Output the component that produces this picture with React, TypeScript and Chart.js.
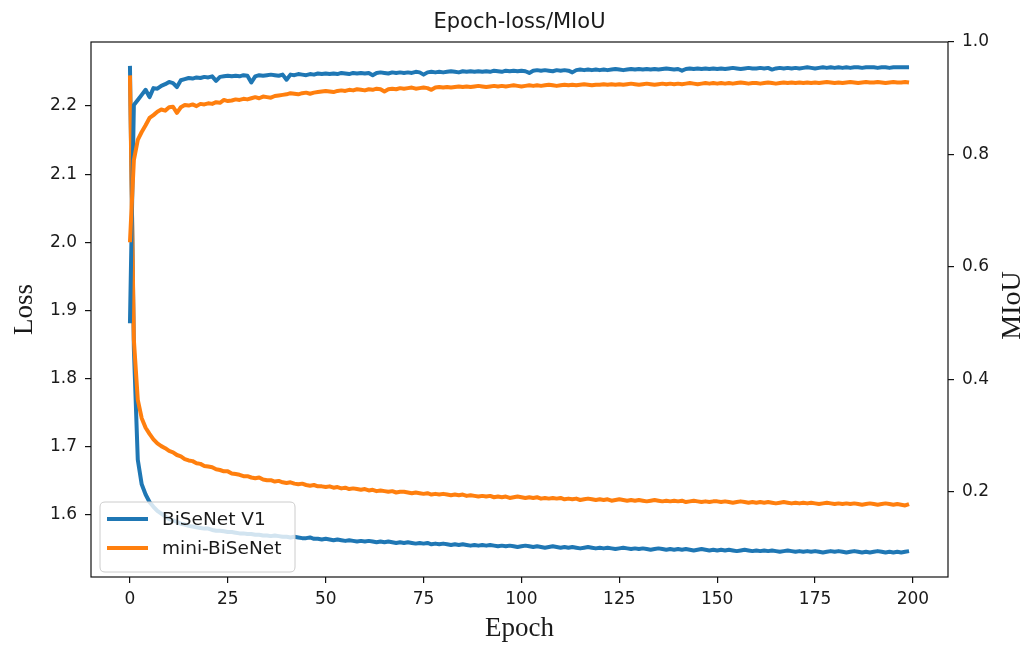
import React, { useEffect, useRef } from "react";
import { Chart, registerables } from "chart.js";

Chart.register(...registerables);

const epochs = Array.from({ length: 200 }, (_, i) => i);

const seriesNames = ["BiSeNet V1", "mini-BiSeNet"];
const seriesColors = ["#1f77b4", "#ff7f0e"];

const bisenetLoss = [
  2.259, 1.844, 1.681, 1.645, 1.630, 1.619, 1.612, 1.606, 1.602, 1.598,
  1.594, 1.592, 1.590, 1.587, 1.586, 1.584, 1.583, 1.582, 1.581, 1.580,
  1.580, 1.578, 1.577, 1.577, 1.576, 1.575, 1.575, 1.574, 1.573, 1.573,
  1.572, 1.572, 1.571, 1.571, 1.570, 1.570, 1.569, 1.570, 1.569, 1.568,
  1.568, 1.567, 1.568, 1.567, 1.566, 1.566, 1.567, 1.565, 1.565, 1.564,
  1.565, 1.564, 1.563, 1.564, 1.563, 1.562, 1.563, 1.562, 1.561, 1.562,
  1.561, 1.562, 1.561, 1.560, 1.561, 1.560, 1.561, 1.560, 1.559, 1.560,
  1.559, 1.560, 1.559, 1.558, 1.559, 1.558, 1.559, 1.557, 1.558, 1.557,
  1.558, 1.557, 1.556, 1.557, 1.556, 1.557, 1.556, 1.555, 1.556, 1.555,
  1.556, 1.555, 1.556, 1.555, 1.554, 1.555, 1.554, 1.555, 1.554, 1.553,
  1.554, 1.555, 1.554, 1.553, 1.554, 1.553, 1.552, 1.553, 1.554, 1.553,
  1.552, 1.553, 1.552, 1.553, 1.552, 1.551, 1.552, 1.553, 1.552, 1.551,
  1.552, 1.551, 1.552, 1.551, 1.550, 1.551, 1.552, 1.551, 1.550, 1.551,
  1.550, 1.551, 1.550, 1.549, 1.550, 1.551, 1.550, 1.549, 1.550, 1.549,
  1.550, 1.549, 1.550, 1.549, 1.548, 1.549, 1.550, 1.549, 1.548, 1.549,
  1.548, 1.549, 1.548, 1.549, 1.548, 1.547, 1.548, 1.549, 1.548, 1.547,
  1.548, 1.547, 1.548, 1.547, 1.548, 1.547, 1.546, 1.547, 1.548, 1.547,
  1.546, 1.547, 1.546, 1.547, 1.546, 1.547, 1.546, 1.545, 1.546, 1.547,
  1.546, 1.547, 1.546, 1.545, 1.546, 1.547, 1.546, 1.545, 1.546, 1.545,
  1.546, 1.547, 1.546, 1.545, 1.546, 1.545, 1.546, 1.545, 1.546, 1.547,
];

const miniLoss = [
  2.245, 1.857, 1.769, 1.742, 1.728, 1.719, 1.711, 1.705, 1.701, 1.698,
  1.694, 1.692, 1.688, 1.686, 1.682, 1.680, 1.679, 1.676, 1.675, 1.672,
  1.671, 1.670, 1.667, 1.666, 1.664, 1.664, 1.661, 1.660, 1.659, 1.657,
  1.657, 1.655, 1.654, 1.655, 1.652, 1.651, 1.651, 1.649, 1.650, 1.648,
  1.647, 1.648, 1.646, 1.645, 1.646, 1.644, 1.643, 1.644, 1.642, 1.642,
  1.641, 1.642, 1.640, 1.641, 1.639, 1.640, 1.638, 1.639, 1.638, 1.637,
  1.638, 1.636, 1.637, 1.635, 1.636, 1.635, 1.634, 1.635, 1.633, 1.634,
  1.634, 1.633, 1.632, 1.633, 1.632, 1.631, 1.632, 1.630, 1.631, 1.630,
  1.631, 1.630, 1.629, 1.630, 1.629, 1.630, 1.628, 1.629, 1.628, 1.627,
  1.628, 1.627, 1.628, 1.626, 1.627, 1.626, 1.627, 1.625, 1.626, 1.627,
  1.626, 1.625, 1.626, 1.625, 1.626, 1.624, 1.625, 1.624, 1.625, 1.624,
  1.625, 1.623, 1.624, 1.623, 1.624, 1.622, 1.623, 1.624, 1.623, 1.622,
  1.623, 1.622, 1.623, 1.621, 1.622, 1.623, 1.622, 1.621, 1.622, 1.621,
  1.622, 1.621, 1.620, 1.621, 1.622, 1.621, 1.620, 1.621, 1.620, 1.621,
  1.620, 1.621, 1.619, 1.620, 1.621, 1.620, 1.619, 1.620, 1.619, 1.620,
  1.620, 1.619, 1.620, 1.619, 1.618, 1.619, 1.620, 1.619, 1.618, 1.619,
  1.618, 1.619, 1.618, 1.619, 1.618, 1.617, 1.618, 1.619, 1.618, 1.617,
  1.618, 1.617, 1.618, 1.617, 1.618, 1.617, 1.616, 1.617, 1.618, 1.617,
  1.616, 1.617, 1.616, 1.617, 1.616, 1.617, 1.616, 1.615, 1.616, 1.617,
  1.616, 1.615, 1.616, 1.617, 1.616, 1.615, 1.616, 1.615, 1.614, 1.616,
];

const bisenetMiou = [
  0.500, 0.888, 0.897, 0.906, 0.915, 0.902, 0.918, 0.917, 0.922, 0.925,
  0.929, 0.927, 0.920, 0.932, 0.934, 0.936, 0.935, 0.937, 0.936, 0.938,
  0.937, 0.939, 0.931, 0.938, 0.939, 0.940, 0.939, 0.940, 0.939, 0.941,
  0.940, 0.928, 0.939, 0.941, 0.940, 0.941, 0.942, 0.941, 0.940, 0.942,
  0.933, 0.942, 0.941, 0.943, 0.942, 0.941, 0.943, 0.942, 0.944, 0.943,
  0.944, 0.943, 0.944, 0.943, 0.945, 0.944, 0.943, 0.945, 0.944, 0.945,
  0.944, 0.945, 0.941, 0.945, 0.946, 0.945, 0.944, 0.946, 0.945, 0.946,
  0.945, 0.946, 0.945, 0.947, 0.946, 0.942, 0.946, 0.947, 0.946, 0.947,
  0.946, 0.947, 0.948, 0.947, 0.946, 0.948, 0.947, 0.948, 0.947, 0.948,
  0.947, 0.948, 0.947, 0.949, 0.948, 0.947, 0.949, 0.948, 0.949, 0.948,
  0.949, 0.948, 0.945, 0.949, 0.950, 0.949, 0.950, 0.949, 0.948, 0.950,
  0.949, 0.950, 0.949, 0.946, 0.950, 0.951, 0.950, 0.951, 0.950, 0.951,
  0.950, 0.951, 0.950, 0.951, 0.952, 0.951, 0.950, 0.951, 0.952, 0.951,
  0.952, 0.951, 0.952, 0.951, 0.952, 0.951, 0.952, 0.953, 0.952, 0.951,
  0.952, 0.949, 0.952, 0.953, 0.952, 0.953, 0.952, 0.953, 0.952, 0.953,
  0.952, 0.953, 0.952, 0.953, 0.954, 0.953, 0.952, 0.953, 0.954, 0.953,
  0.953, 0.954, 0.953, 0.954, 0.951, 0.953, 0.954, 0.953, 0.954, 0.953,
  0.954, 0.953, 0.954, 0.955, 0.954, 0.953, 0.954, 0.955, 0.954, 0.955,
  0.954, 0.955, 0.954, 0.955, 0.954, 0.955, 0.955, 0.954, 0.955, 0.955,
  0.955, 0.954, 0.955, 0.955, 0.954, 0.955, 0.955, 0.955, 0.955, 0.955,
];

const miniMiou = [
  0.644, 0.790, 0.826, 0.840, 0.852, 0.865, 0.870, 0.876, 0.880, 0.878,
  0.884, 0.885, 0.874, 0.884, 0.888, 0.887, 0.889, 0.886, 0.890, 0.889,
  0.891, 0.890, 0.893, 0.892, 0.897, 0.895, 0.896, 0.898, 0.897, 0.899,
  0.898, 0.900, 0.902, 0.900, 0.903, 0.902, 0.901, 0.904, 0.905, 0.906,
  0.907, 0.909, 0.908, 0.907, 0.909, 0.910, 0.908, 0.910, 0.911, 0.912,
  0.913, 0.912, 0.911, 0.913, 0.914, 0.913, 0.915, 0.914, 0.916, 0.915,
  0.914, 0.916, 0.915, 0.917, 0.916, 0.912, 0.916, 0.917, 0.916, 0.918,
  0.917, 0.918, 0.919, 0.917, 0.918, 0.919, 0.918, 0.915, 0.919, 0.920,
  0.919, 0.920, 0.919, 0.920, 0.921, 0.920, 0.921, 0.920, 0.921, 0.922,
  0.921, 0.920, 0.921, 0.922, 0.921, 0.922, 0.921, 0.922, 0.923, 0.922,
  0.921, 0.922, 0.923, 0.922, 0.923, 0.922, 0.923, 0.924, 0.923, 0.922,
  0.923, 0.924, 0.923, 0.924, 0.923, 0.924, 0.925, 0.924, 0.923, 0.924,
  0.924, 0.925, 0.924, 0.925, 0.924, 0.925, 0.924, 0.925, 0.926, 0.925,
  0.924, 0.925, 0.926, 0.925, 0.924, 0.925, 0.926, 0.925, 0.926, 0.925,
  0.926, 0.925, 0.926, 0.927, 0.926, 0.925, 0.926, 0.927, 0.926, 0.927,
  0.926, 0.927, 0.926, 0.927, 0.926, 0.927, 0.928, 0.927, 0.926, 0.927,
  0.927, 0.926, 0.927, 0.928, 0.927, 0.926, 0.927, 0.928, 0.927, 0.928,
  0.927, 0.928, 0.927, 0.928, 0.927, 0.928, 0.927, 0.928, 0.929, 0.928,
  0.927, 0.928, 0.927, 0.928, 0.929, 0.928, 0.927, 0.928, 0.929, 0.928,
  0.928, 0.929, 0.928, 0.927, 0.928, 0.929, 0.928, 0.928, 0.929, 0.928,
];

const xTicks = [0, 25, 50, 75, 100, 125, 150, 175, 200];
const lossTicks = [1.6, 1.7, 1.8, 1.9, 2.0, 2.1, 2.2];
const miouTicks = [0.2, 0.4, 0.6, 0.8, 1.0];

const titleText = "Epoch-loss/MIoU";
const xTitle = "Epoch";
const yLeftTitle = "Loss";
const yRightTitle = "MIoU";

const SANS = "'DejaVu Sans', sans-serif";
const SERIF = "'Liberation Serif', 'DejaVu Serif', serif";

const toPoints = (vals: number[]) => epochs.map((e, i) => ({ x: e, y: vals[i] }));

const decorPlugin = {
  id: "decor",
  afterDatasetsDraw(chart: any) {
    const { ctx, chartArea } = chart;
    const { left, right, top, bottom } = chartArea;
    ctx.save();
    // frame
    ctx.strokeStyle = "#111";
    ctx.lineWidth = 1.2;
    ctx.strokeRect(left, top, right - left, bottom - top);

    // legend
    const lx = left + 9, ly = bottom - 75, lw = 195, lh = 70, r = 5;
    ctx.beginPath();
    ctx.moveTo(lx + r, ly);
    ctx.lineTo(lx + lw - r, ly);
    ctx.quadraticCurveTo(lx + lw, ly, lx + lw, ly + r);
    ctx.lineTo(lx + lw, ly + lh - r);
    ctx.quadraticCurveTo(lx + lw, ly + lh, lx + lw - r, ly + lh);
    ctx.lineTo(lx + r, ly + lh);
    ctx.quadraticCurveTo(lx, ly + lh, lx, ly + lh - r);
    ctx.lineTo(lx, ly + r);
    ctx.quadraticCurveTo(lx, ly, lx + r, ly);
    ctx.closePath();
    ctx.fillStyle = "rgba(255,255,255,0.8)";
    ctx.fill();
    ctx.strokeStyle = "#cccccc";
    ctx.lineWidth = 1;
    ctx.stroke();

    const items = chart.data.datasets.filter((d: any) => d.showInLegend);
    items.forEach((d: any, i: number) => {
      const y = ly + 17 + i * 29;
      ctx.strokeStyle = d.borderColor;
      ctx.lineWidth = 4;
      ctx.lineCap = "butt";
      ctx.beginPath();
      ctx.moveTo(lx + 7, y);
      ctx.lineTo(lx + 48, y);
      ctx.stroke();
      ctx.fillStyle = "#1a1a1a";
      ctx.font = `18.5px ${SANS}`;
      ctx.textAlign = "left";
      ctx.textBaseline = "middle";
      ctx.fillText(d.label, lx + 62, y + 1);
    });

    // title
    const cx = (left + right) / 2;
    ctx.fillStyle = "#1a1a1a";
    ctx.font = `21px ${SANS}`;
    ctx.textAlign = "center";
    ctx.textBaseline = "middle";
    ctx.fillText(titleText, cx, 23);

    // axis titles
    ctx.font = `27px ${SERIF}`;
    ctx.fillText(xTitle, cx, 629);
    const cy = (top + bottom) / 2;
    ctx.save();
    ctx.translate(25, cy);
    ctx.rotate(-Math.PI / 2);
    ctx.fillText(yLeftTitle, 0, 0);
    ctx.restore();
    ctx.save();
    ctx.translate(1013, cy - 4);
    ctx.rotate(-Math.PI / 2);
    ctx.font = `28px ${SERIF}`;
    ctx.fillText(yRightTitle, 0, 0);
    ctx.restore();
    ctx.restore();
  },
};

export default function App() {
  const ref = useRef<HTMLCanvasElement>(null);
  useEffect(() => {
    document.body.style.margin = "0";
    const canvas = ref.current;
    if (!canvas) return;
    const tickFont = { family: SANS, size: 17 };
    const grid = {
      drawOnChartArea: false,
      drawTicks: true,
      tickLength: 6,
      color: "#111",
      lineWidth: 1.2,
    };
    const lineStyle = {
      pointRadius: 0,
      borderWidth: 4,
      tension: 0,
      fill: false,
      borderJoinStyle: "round" as const,
      borderCapStyle: "butt" as const,
    };
    const chart = new Chart(canvas, {
      type: "line",
      data: {
        datasets: [
          { ...lineStyle, label: seriesNames[0], data: toPoints(bisenetLoss), borderColor: seriesColors[0], yAxisID: "yL", order: 4, showInLegend: true } as any,
          { ...lineStyle, label: seriesNames[1], data: toPoints(miniLoss), borderColor: seriesColors[1], yAxisID: "yL", order: 3, showInLegend: true } as any,
          { ...lineStyle, label: seriesNames[0] + " MIoU", data: toPoints(bisenetMiou), borderColor: seriesColors[0], yAxisID: "yR", order: 2 } as any,
          { ...lineStyle, label: seriesNames[1] + " MIoU", data: toPoints(miniMiou), borderColor: seriesColors[1], yAxisID: "yR", order: 1 } as any,
        ],
      },
      options: {
        responsive: false,
        animation: false,
        devicePixelRatio: 1,
        layout: { padding: { top: 42, left: 0, right: 0, bottom: 0 } },
        plugins: {
          legend: { display: false },
          tooltip: { enabled: false },
          title: { display: false },
        },
        scales: {
          x: {
            type: "linear",
            position: "bottom",
            min: -9.95,
            max: 208.95,
            grid,
            border: { display: false },
            ticks: {
              color: "#1a1a1a",
              font: tickFont,
              padding: 6,
              maxRotation: 0,
              callback: (v: any) => String(v),
            },
            afterBuildTicks: (s: any) => {
              s.ticks = xTicks.map((v) => ({ value: v }));
            },
            afterFit: (s: any) => {
              s.height = 72;
            },
          },
          yL: {
            type: "linear",
            position: "left",
            min: 1.509,
            max: 2.294,
            grid,
            border: { display: false },
            ticks: {
              color: "#1a1a1a",
              font: tickFont,
              padding: 8,
              callback: (v: any) => Number(v).toFixed(1),
            },
            afterBuildTicks: (s: any) => {
              s.ticks = lossTicks.map((v) => ({ value: v }));
            },
            afterFit: (s: any) => {
              s.width = 91;
            },
          },
          yR: {
            type: "linear",
            position: "right",
            min: 0.049,
            max: 1.0,
            grid,
            border: { display: false },
            ticks: {
              color: "#1a1a1a",
              font: tickFont,
              padding: 8,
              callback: (v: any) => Number(v).toFixed(1),
            },
            afterBuildTicks: (s: any) => {
              s.ticks = miouTicks.map((v) => ({ value: v }));
            },
            afterFit: (s: any) => {
              s.width = 81;
            },
          },
        },
      },
      plugins: [decorPlugin],
    });
    return () => chart.destroy();
  }, []);
  return (
    <canvas
      ref={ref}
      width={1029}
      height={649}
      style={{ display: "block", width: 1029, height: 649 }}
    />
  );
}
